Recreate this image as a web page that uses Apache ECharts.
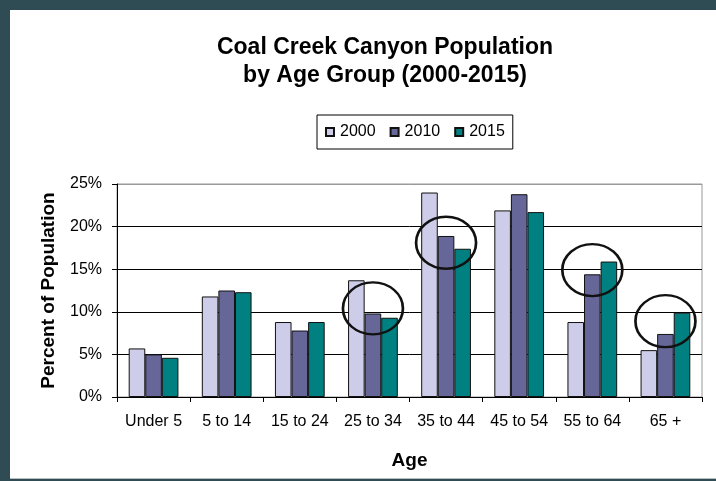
<!DOCTYPE html>
<html>
<head>
<meta charset="utf-8">
<script src="https://cdn.jsdelivr.net/npm/echarts@6/dist/echarts.min.js"></script>
<style>
  html, body { margin: 0; padding: 0; background: #fff; }
  #chart { width: 716px; height: 481px; }
</style>
</head>
<body>
<div id="chart"></div>
<script>
// Age groups on the category axis
const ageGroups = ['Under 5', '5 to 14', '15 to 24', '25 to 34', '35 to 44', '45 to 54', '55 to 64', '65 +'];
// Share of population (%) per census year
const pct2000 = [5.7, 11.8, 8.8, 13.7, 24.0, 21.9, 8.8, 5.5];
const pct2010 = [5.0, 12.5, 7.8, 9.8, 18.9, 23.8, 14.4, 7.4];
const pct2015 = [4.6, 12.3, 8.8, 9.3, 17.4, 21.7, 15.9, 9.9];
// Percent axis ticks
const yTicks = [0, 5, 10, 15, 20, 25];
// Groups called out with a ring: [age group, percent level of the ring centre]
const callouts = [['25 to 34', 10.4], ['35 to 44', 18.1], ['55 to 64', 14.9], ['65 +', 8.9]];

const frameColor = '#2F4B54';
const font = '"Liberation Sans", Arial, sans-serif';

const chart = echarts.init(document.getElementById('chart'), null, { renderer: 'canvas' });

function barSeries(name, values, color) {
  return {
    name: name,
    type: 'bar',
    data: values,
    barGap: '0%',
    barCategoryGap: '32%',
    itemStyle: { color: color, borderColor: '#111', borderWidth: 1 },
    emphasis: { disabled: true }
  };
}

// Rings sit on the middle series so they centre on each age group
const s2010 = barSeries('2010', pct2010, '#666699');
s2010.markPoint = {
  silent: true,
  symbol: 'circle',
  symbolSize: [60, 52],
  itemStyle: { color: 'rgba(0,0,0,0)', borderColor: '#111', borderWidth: 2.5 },
  label: { show: false },
  z: 10,
  data: callouts.map(c => ({ coord: [c[0], c[1]] }))
};

chart.setOption({
  animation: false,
  backgroundColor: '#fff',
  textStyle: { fontFamily: font },
  title: {
    text: 'Coal Creek Canyon Population\nby Age Group (2000-2015)',
    left: 385,
    top: 34,
    textAlign: 'center',
    padding: 0,
    textStyle: { fontFamily: font, fontSize: 23, fontWeight: 'bold', color: '#000', lineHeight: 28 }
  },
  legend: {
    left: 317,
    top: 115,
    padding: [9, 8],
    itemGap: 14,
    itemWidth: 8,
    itemHeight: 8,
    icon: 'rect',
    borderColor: '#000',
    borderWidth: 1,
    textStyle: { fontFamily: font, fontSize: 16, color: '#000', padding: [0, 0, 0, 1] },
    data: ['2000', '2010', '2015']
  },
  grid: {
    left: 117, right: 14, top: 184, bottom: 84,
    show: true, borderColor: '#999', borderWidth: 1, backgroundColor: '#fff'
  },
  xAxis: {
    type: 'category',
    data: ageGroups,
    name: 'Age',
    nameLocation: 'middle',
    nameGap: 54,
    nameTextStyle: { fontFamily: font, fontSize: 19, fontWeight: 'bold', color: '#000' },
    axisLine: { lineStyle: { color: '#000', width: 1 } },
    axisTick: { show: true, length: 5, lineStyle: { color: '#000' } },
    axisLabel: { fontFamily: font, fontSize: 16, color: '#000', margin: 17, interval: 0 },
    splitLine: { show: false }
  },
  yAxis: {
    type: 'value',
    min: yTicks[0],
    max: yTicks[yTicks.length - 1],
    interval: yTicks[1] - yTicks[0],
    name: 'Percent of Population',
    nameLocation: 'middle',
    nameGap: 59,
    nameRotate: 90,
    nameTextStyle: { fontFamily: font, fontSize: 19, fontWeight: 'bold', color: '#000' },
    axisLine: { show: true, lineStyle: { color: '#000', width: 1 } },
    axisTick: { show: true, length: 5, lineStyle: { color: '#000' } },
    axisLabel: { fontFamily: font, fontSize: 16, color: '#000', margin: 15, formatter: '{value}%' },
    splitLine: { show: true, lineStyle: { color: ['#000', '#000', '#000', '#000', '#000', '#999'], width: 1 } }
  },
  series: [
    barSeries('2000', pct2000, '#CDCDE9'),
    s2010,
    barSeries('2015', pct2015, '#008080')
  ],
  graphic: [
    { type: 'rect', silent: true, z: 100, shape: { x: 0, y: 0, width: 716, height: 10 }, style: { fill: frameColor } },
    { type: 'rect', silent: true, z: 100, shape: { x: 0, y: 0, width: 10, height: 481 }, style: { fill: frameColor } },
    { type: 'rect', silent: true, z: 100, shape: { x: 10, y: 478, width: 706, height: 1 }, style: { fill: '#B8BEC2' } },
    { type: 'rect', silent: true, z: 100, shape: { x: 0, y: 479, width: 716, height: 2 }, style: { fill: frameColor } }
  ]
});
</script>
</body>
</html>
